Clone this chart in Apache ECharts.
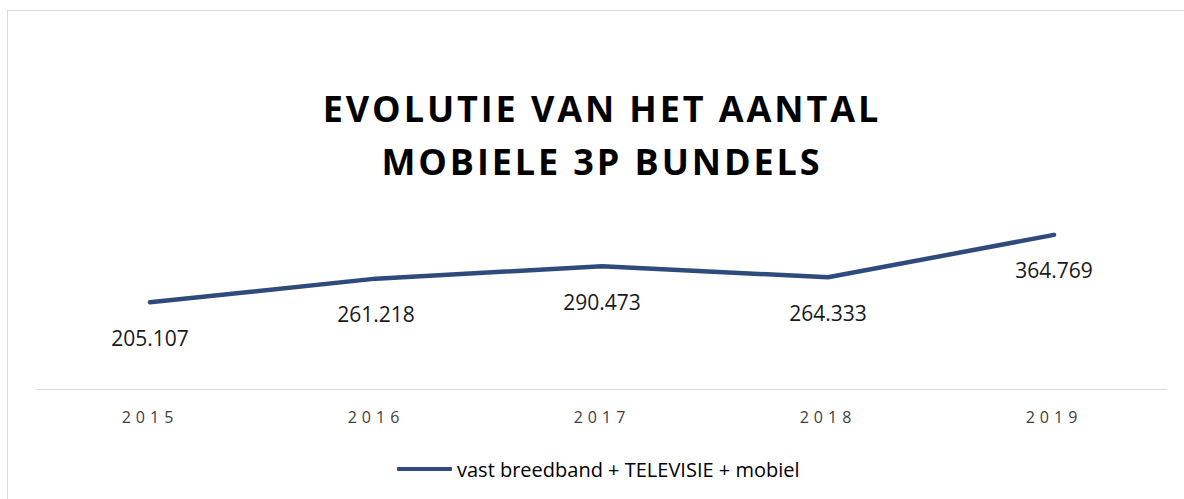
<!DOCTYPE html>
<html>
<head>
<meta charset="utf-8">
<script src="https://cdn.jsdelivr.net/npm/echarts@6/dist/echarts.min.js"></script>
<style>
  html, body { margin:0; padding:0; background:#fff; overflow:hidden; }
  #frame { position:absolute; left:7px; top:10px; width:1300px; height:600px; border:1px solid #d9d9d9; box-sizing:border-box; }
  #chart { position:absolute; left:0; top:0; width:1184px; height:499px; }
  /* letter-spaced texts (svg renderer) */
  #chart text[style*="36px"] { letter-spacing:2.9px; }
  #chart text[style*="16px"] { letter-spacing:5px; }
</style>
</head>
<body>
<div id="frame"></div>
<div id="chart"></div>
<script>
// === Datos ===
const years  = ['2015', '2016', '2017', '2018', '2019'];
const bundles = [205107, 261218, 290473, 264333, 364769];
const seriesName = 'vast breedband + TELEVISIE + mobiel';
const titleText = 'EVOLUTIE VAN HET AANTAL\nMOBIELE 3P BUNDELS';

// === Estilo ===
const navy = '#2f4b7e', axisGrey = '#d9d9d9', font = '"Open Sans", sans-serif';
const nfNL = new Intl.NumberFormat('nl-BE', { maximumFractionDigits: 0 });

const chart = echarts.init(document.getElementById('chart'), null, { renderer:'svg' });
chart.setOption({
  animation: false,
  title: { text: titleText, left: 602, textAlign: 'center', top: 82, padding: 0,
    textStyle: { fontFamily: font, fontSize: 36, fontWeight: 'bold', color: '#000', lineHeight: 53 } },
  grid: { left: 37, right: 17, top: 220, bottom: 110 },
  xAxis: { type: 'category', data: years, boundaryGap: true,
    axisLine: { lineStyle: { color: axisGrey, width: 1 } }, axisTick: { show: false },
    axisLabel: { color: '#404040', fontFamily: font, fontSize: 16, margin: 20 } },
  yAxis: { type: 'value', min: 0, max: 400000, show: false, splitLine: { show: false } },
  legend: { data: [seriesName], top: 459, left: 397, itemWidth: 55, itemHeight: 4, icon: 'roundRect',
    itemGap: 10, itemStyle: { color: navy, opacity: 1 }, padding: 0,
    textStyle: { fontFamily: font, fontSize: 20, color: '#000' } },
  series: [{ name: seriesName, type: 'line', data: bundles, symbol: 'circle', symbolSize: 0.1, showSymbol: true,
    lineStyle: { color: navy, width: 4.5, cap: 'round', join: 'round' }, itemStyle: { color: navy },
    label: { show: true, position: 'bottom', distance: 25, fontFamily: font, fontSize: 21, color: '#1a1a1a',
      formatter: p => nfNL.format(p.value) } }]
});
</script>
</body>
</html>
